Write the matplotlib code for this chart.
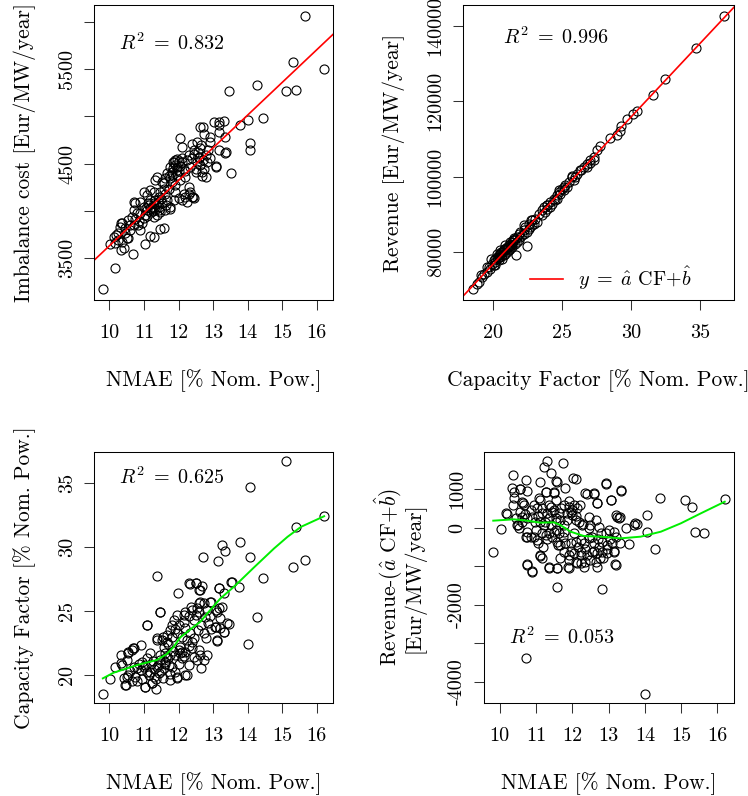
import numpy as np
import matplotlib
matplotlib.use("Agg")
import matplotlib.pyplot as plt

plt.rcParams['font.family'] = ['cmr10', 'DejaVu Serif']
plt.rcParams['mathtext.fontset'] = 'cm'
plt.rcParams['axes.unicode_minus'] = False

# ---------------- Panel 1: NMAE vs imbalance cost ----------------
p1_nmae = [9.81, 10.16, 10.02, 10.68, 10.34, 10.19, 10.34, 11.04, 11.16, 11.28, 11.47, 11.57,
           10.89, 10.70, 10.99, 11.37, 11.76, 12.05, 12.10, 11.83, 12.42, 12.69, 13.07, 13.53,
           13.34, 13.18, 13.16, 13.31, 13.02, 12.71, 13.45, 13.78, 14.01, 14.43, 14.07, 14.07,
           14.28, 15.12, 15.40, 15.31, 15.65, 16.21,
           13.17, 12.63, 12.73, 12.92, 13.17, 13.33, 13.36, 12.92, 12.39, 12.54, 12.63, 12.44,
           12.29, 12.58, 12.78, 12.83, 13.07, 12.63, 12.68, 12.78, 12.73, 11.86, 11.91, 12.10,
           12.15, 11.96, 11.66, 11.62, 11.76, 11.52, 11.33, 11.81, 11.91, 12.05, 12.20, 12.29,
           12.34, 12.39, 12.44, 12.15, 12.10, 12.00, 11.86, 11.76, 11.71, 11.57, 11.47, 11.28,
           11.18, 11.08, 11.18, 11.28, 11.42, 11.33, 11.18, 11.08, 10.89, 10.75, 10.70, 10.79,
           10.65, 10.55, 10.70, 10.60, 10.36, 10.31, 10.26, 10.46, 10.50, 10.12, 10.16, 10.36,
           10.41, 11.37, 11.42, 11.62, 10.99, 10.94, 10.84, 11.04,
           11.71, 11.81, 11.96, 11.57, 11.42, 11.33, 11.23, 11.13, 10.99, 10.89, 11.28, 11.52,
           11.66, 12.25, 12.34, 12.49, 12.54,
           11.05, 11.15, 11.25, 11.35, 11.30, 11.20, 11.10, 11.40, 11.50, 11.45,
           11.85, 11.90, 11.95, 12.00, 12.05, 11.80, 11.75, 12.00, 12.10, 11.95,
           12.55, 12.60, 12.65, 12.70, 12.50, 12.45, 12.85, 12.90, 12.40, 12.20,
           10.55, 10.60, 10.75, 10.85, 10.45, 10.25,
           12.20, 12.25, 12.30, 11.90, 11.60, 11.65]
p1_cost = [3176, 3394, 3651, 3546, 3588, 3746, 3877, 3655, 3736, 3722, 3813, 3820,
           3799, 4092, 4204, 4363, 4018, 4768, 4680, 4514, 4144, 4373, 4468, 4398,
           4616, 4651, 4944, 4954, 4944, 4884, 5268, 4908, 4968, 4986, 4722, 4644,
           5331, 5271, 5278, 5577, 6063, 5500,
           4908, 4890, 4820, 4785, 4838, 4785, 4626, 4732, 4714, 4732, 4662, 4644,
           4591, 4574, 4591, 4521, 4479, 4486, 4415, 4362, 4450, 4521, 4538, 4521,
           4450, 4433, 4398, 4345, 4345, 4310, 4327, 4310, 4274, 4327, 4362, 4257,
           4204, 4151, 4134, 4186, 4116, 4134, 4116, 4046, 4239, 4239, 4204, 4204,
           4222, 4169, 4116, 4081, 4046, 4010, 4028, 4010, 4098, 4081, 4010, 3975,
           3940, 3905, 3852, 3799, 3870, 3834, 3764, 3764, 3711, 3729, 3658, 3676,
           3606, 3958, 4010, 4010, 3922, 3870, 3852, 3958,
           4369, 4415, 4380, 4292, 4151, 4116, 4046, 4081, 4046, 3975, 3940, 4081,
           4116, 4538, 4468, 4415, 4521,
           4030, 4060, 4000, 4070, 4030, 3990, 3950, 4100, 4130, 3990,
           4460, 4490, 4470, 4420, 4480, 4380, 4470, 4530, 4560, 4550,
           4620, 4560, 4700, 4540, 4450, 4600, 4650, 4560, 4560, 4420,
           3720, 3850, 3920, 3900, 3820, 3690,
           4150, 4100, 4180, 4200, 4180, 4060]
p1_r2 = "0.832"

# ---------------- Panel 2: capacity factor vs revenue ----------------
p2_cf = [18.53, 18.99, 19.16, 19.35, 19.59, 19.83, 21.64, 22.44, 22.72, 22.24, 23.93, 24.77,
         25.14, 25.74, 26.34, 26.82, 27.02, 27.31, 27.55, 27.74, 28.46, 28.95, 29.19, 29.28,
         29.72, 30.15, 30.44, 31.57, 32.42, 34.66, 36.71,
         18.84, 19.20, 19.57, 19.69, 19.93, 20.05, 20.17, 20.29, 20.41, 20.53, 20.65, 20.77,
         20.89, 21.13, 21.25, 21.37, 21.62, 21.74, 21.86, 21.98, 22.22, 22.34, 22.58, 22.82,
         23.06, 23.30, 23.54, 23.66, 23.91, 24.15, 24.39, 24.63, 24.75, 24.99, 25.23, 25.47,
         25.71, 26.08, 26.32, 26.56, 26.80, 27.04, 27.28,
         19.81, 20.17, 20.41, 20.65, 20.77, 21.01, 20.29, 20.53, 20.89, 21.37, 21.49, 21.74,
         22.10, 22.46, 22.82, 23.18, 23.54, 23.79, 24.27, 24.51,
         20.05, 20.17, 20.41, 20.53, 20.65, 20.89, 21.13, 21.01, 21.25, 21.37, 21.62, 21.86,
         21.98, 22.22, 22.58, 22.70, 22.94, 23.91, 24.15, 24.63, 24.87, 25.11, 25.35, 25.83,
         25.95,
         20.35, 20.60, 20.80, 21.05, 21.20, 21.45, 20.95, 21.55, 20.70, 21.30]
p2_rev = [70177, 72035, 73805, 74248, 76018, 78230, 79115, 81504, 88407, 87080, 92389, 96372,
          97257, 100177, 101681, 102566, 103628, 104513, 106991, 108142, 110265, 110973, 112035, 113363,
          115398, 116549, 117434, 121593, 126018, 134248, 142655,
          71593, 73363, 74690, 76018, 76903, 77788, 77345, 78673, 79115, 79558, 80000, 80443,
          80885, 81328, 82213, 82655, 83540, 83983, 84868, 85310, 85930, 86638, 87523, 88408,
          88850, 90178, 91063, 91948, 92390, 93275, 94160, 95045, 95930, 96815, 97700, 98585,
          99913, 100798, 101683, 102568, 103453, 104338, 105223,
          75575, 76460, 77788, 78230, 79115, 80000, 79558, 80443, 81770, 81328, 83098, 82655,
          84425, 85310, 87080, 87965, 89735, 90620, 92833, 93718,
          76460, 78230, 78673, 78673, 79115, 79558, 80443, 80885, 80885, 81770, 82213, 83098,
          83983, 84868, 86195, 86638, 87523, 91505, 91948, 94160, 95488, 96373, 97258, 99028,
          99913,
          78400, 79900, 80700, 81500, 82600, 83300, 81200, 83700, 79900, 82000]
p2_r2 = "0.996"

# ---------------- Panel 3: NMAE vs capacity factor ----------------
p3_nmae = [9.81, 10.02, 10.15, 10.34, 10.34, 10.48, 10.41, 10.53, 10.68, 10.75, 10.79, 10.91,
           11.02, 11.09, 11.23, 11.36, 11.37, 11.47, 11.55, 11.37, 11.76, 11.97, 11.95, 12.20,
           12.34, 12.49, 12.63, 12.68, 12.71, 12.66, 12.94, 13.14, 13.18, 13.26, 13.33, 13.31,
           13.53, 13.46, 13.12, 13.31, 13.21, 13.05, 13.78, 13.76, 14.01, 14.06, 14.07, 14.28,
           14.43, 15.12, 15.31, 15.39, 15.65, 16.21,
           10.36, 10.55, 10.70, 10.65, 10.50, 10.70, 10.50, 10.46, 10.79, 10.94, 11.08, 11.18,
           11.04, 11.18, 11.04, 11.23, 11.28, 11.42, 11.57, 11.37, 11.47, 11.62, 11.71, 11.96,
           11.62, 11.76, 11.91, 12.05, 12.10, 12.00, 11.57, 11.66, 11.52, 11.37, 11.81, 11.96,
           12.10, 12.25, 12.39, 12.20, 12.34, 12.39, 12.58, 12.63, 12.73, 12.83, 12.54, 12.29,
           12.25, 11.66, 11.76, 11.86, 11.96, 12.15, 12.29, 12.39, 12.54, 12.49, 12.63, 12.58,
           12.15, 12.00, 11.47, 11.08, 12.29, 12.49, 12.58, 12.73, 12.92, 12.83, 13.07, 13.17,
           13.21, 13.07, 13.41, 12.73, 12.78, 13.12, 13.31, 13.17, 13.55, 12.20, 12.44,
           10.90, 11.00, 11.10, 11.20, 11.30, 11.40, 11.50, 11.60, 11.70, 11.80, 11.90, 12.00,
           12.10, 12.15, 12.05, 11.85, 11.65, 11.45, 11.25, 11.15, 10.85, 10.60, 10.55, 10.65,
           10.95, 11.35, 11.55, 11.75, 12.30, 12.45, 12.55, 12.65, 12.75, 12.85, 12.95, 12.90,
           12.45, 12.35, 12.60, 12.20, 11.90, 11.80, 11.70, 13.10, 13.25]
p3_cf = [18.52, 19.66, 20.65, 21.56, 20.91, 19.22, 19.74, 21.82, 22.08, 19.87, 19.56, 22.34,
         19.09, 23.90, 19.35, 18.88, 27.72, 24.94, 22.94, 22.73, 19.61, 26.37, 19.74, 20.00,
         27.10, 27.20, 26.63, 26.94, 29.23, 20.52, 25.72, 28.92, 26.81, 30.14, 29.70, 26.37,
         27.23, 23.98, 22.68, 23.33, 23.69, 23.72, 30.37, 26.89, 22.42, 34.69, 29.23, 24.50,
         27.54, 36.71, 28.45, 31.52, 28.97, 32.43,
         20.78, 21.69, 22.08, 21.95, 21.17, 20.65, 19.87, 19.22, 20.52, 21.04, 21.30, 21.69,
         20.78, 20.26, 19.09, 19.35, 19.87, 20.13, 20.52, 20.65, 21.17, 21.04, 20.78, 19.87,
         21.69, 21.56, 21.56, 21.69, 21.30, 21.95, 22.21, 22.60, 22.73, 22.86, 22.99, 23.25,
         22.99, 22.73, 22.60, 23.64, 23.25, 22.08, 21.95, 21.56, 21.17, 21.56, 21.17, 20.78,
         20.00, 23.12, 23.51, 24.29, 24.68, 24.68, 24.60, 25.07, 25.20, 24.68, 25.72, 24.94,
         24.16, 23.90, 24.94, 23.90, 27.15, 27.15, 26.63, 25.59, 25.72, 25.07, 25.07, 25.20,
         24.42, 23.77, 24.03, 23.25, 22.86, 22.73, 23.38, 26.76, 27.28, 21.80, 21.40,
         20.40, 20.60, 20.20, 20.90, 20.50, 20.80, 20.30, 20.90, 21.30, 20.60, 20.20, 20.90,
         21.80, 21.50, 22.20, 21.90, 21.40, 21.60, 21.10, 20.00, 20.90, 20.30, 20.00, 19.50,
         19.70, 19.70, 19.80, 20.10, 22.30, 22.90, 23.50, 23.90, 24.50, 24.10, 23.60, 24.60,
         24.30, 25.30, 25.60, 24.90, 23.60, 23.90, 22.40, 24.90, 25.30]
p3_smooth_x = [9.81, 10.12, 10.80, 11.37, 11.66, 11.86, 12.05, 12.44, 12.63, 12.83, 13.21,
               13.60, 13.80, 14.18, 14.76, 15.15, 15.54, 16.21]
p3_smooth_y = [19.74, 20.18, 20.78, 21.17, 21.64, 22.21, 22.94, 23.77, 24.16, 24.81, 25.98,
               26.89, 27.41, 28.40, 29.88, 30.79, 31.57, 32.40]
p3_r2 = "0.625"

# ---------------- Panel 4: NMAE vs revenue residual ----------------
p4_nmae = [9.82, 10.04, 10.20, 10.37, 10.39, 10.37, 10.55, 10.72, 10.75, 10.64, 10.50, 10.71,
           10.75, 10.89, 10.74, 11.12, 11.12, 11.10, 11.29, 11.23, 11.40, 11.26, 11.49, 11.37,
           11.58, 11.58, 11.58, 11.75, 11.81, 12.02, 12.09, 11.89, 12.41, 12.60, 12.67, 12.81,
           12.94, 13.06, 13.17, 13.35, 13.19, 13.30, 13.31, 13.47, 13.55, 13.74, 13.79, 14.05,
           14.07, 14.00, 14.27, 14.42, 15.10, 15.29, 15.37, 15.63, 16.20,
           11.54, 10.34, 10.57, 11.26, 11.49, 10.39, 10.62, 10.66, 11.08, 11.54, 11.77, 11.90,
           12.04, 12.13, 11.40, 11.49, 11.63, 11.03, 11.17, 11.31, 11.35, 10.57, 10.62, 10.16,
           10.75, 10.89, 10.98, 11.12, 11.21, 11.40, 11.54, 11.67, 11.77, 11.86, 11.95, 12.00,
           12.09, 12.18, 12.27, 12.36, 12.59, 12.69, 12.92, 13.06, 13.33, 12.46, 12.64, 12.73,
           12.50, 12.92, 13.01, 13.15, 13.19, 13.24, 13.28, 13.70, 10.48, 10.52, 10.75, 10.71,
           10.94, 11.03, 11.17, 11.26, 11.35, 11.44, 11.54, 11.63, 11.77, 11.58, 11.67, 11.81,
           11.95, 12.09, 12.23, 12.32, 12.46, 12.59, 12.73, 12.83, 12.96, 13.10,
           11.77, 11.90, 12.04, 12.23, 12.41, 12.55, 12.69, 12.83, 12.96, 13.15,
           11.67, 11.90, 12.09, 12.23, 12.36, 12.50, 12.64, 12.77, 13.19,
           11.12, 11.17, 10.75, 10.89, 11.35, 11.58, 11.90, 12.13, 12.32, 12.69,
           10.45, 10.60, 10.70, 10.85, 10.95, 11.00, 11.05, 11.15, 11.25, 11.30, 11.35, 11.45,
           11.50, 11.55, 11.60, 11.70, 11.75, 11.85, 11.90, 11.95, 12.00, 12.05, 12.10, 12.15,
           12.20, 12.25, 12.30, 12.35, 12.45, 12.55, 12.60, 12.70, 12.80, 12.85, 12.95, 13.05,
           13.15, 11.20, 11.05, 10.85]
p4_resid = [-632, -43, 355, 1368, 935, 589, 996, 1238, 961, 632, 69, -3395,
            -970, -1143, -234, 1195, 719, -736, 1732, 1585, 1429, 918, 909, -1013,
            -1057, -1550, 1195, 1671, 1022, 1282, 1256, -1031, 875, 875, 632, -1602,
            1134, 719, -953, 961, 329, 286, -407, -17, -424, 113, 87, 329,
            -121, -4321, -563, 762, 719, 528, -121, -147, 745,
            1212, 1022, 1000, 935, 935, 762, 675, 589, 762, 719, 589, 546,
            589, 502, 546, 459, 372, 502, 372, 372, 242, 416, 286, 372,
            242, 286, 156, 156, 69, 69, 156, 199, 69, 372, 416, 329,
            199, 156, 69, 892, 892, 632, 1152, 719, 978, 286, 199, 26,
            69, -147, -61, -104, -234, 286, 242, 69, 69, -17, -104, -234,
            -234, -320, -147, -191, -147, -234, -61, -147, -104, -364, -450, -407,
            -407, -364, -320, -407, -277, -407, -494, -364, -450, -407,
            -624, -710, -667, -624, -710, -624, -667, -624, -667, -624,
            -797, -840, -883, -927, -883, -840, -883, -797, -970,
            -710, -797, -953, -1126, -1057, -1057, -1057, -927, -1013, -1013,
            250, 150, 350, 450, 600, -50, 300, 500, 150, -300, 600, 400,
            -100, 250, -450, 500, -250, 200, 700, -600, 450, -150, 300, -500,
            600, -700, 100, -550, 0, -250, -600, -300, -150, -800, -550, -300,
            -600, -500, -400, -250]
p4_smooth_x = [9.82, 10.39, 10.75, 11.12, 11.49, 11.67, 11.95, 12.32, 12.78, 13.33, 13.88,
               14.44, 14.99, 15.54, 16.20]
p4_smooth_y = [182, 217, 182, 130, 139, 69, -104, -217, -234, -277, -234, -104, 113, 372, 675]
p4_r2 = "0.053"

nmae_ticks = [10, 11, 12, 13, 14, 15, 16]

# ---------------- figure ----------------
W, H = 748, 796
fig = plt.figure(figsize=(W / 100, H / 100), dpi=100)

def rect(l, t, r, b):
    return [l / W, 1 - b / H, (r - l) / W, (b - t) / H]

FS = 14.5
LW = 0.75

def rlim(v):
    lo, hi = min(v), max(v)
    d = 0.04 * (hi - lo)
    return lo - d, hi + d

def r2text(val):
    return r'$R^2\;=\;' + val + '$'

def style(ax, xt, xtl, yt, ytl, xlabel, ylabel):
    ax.set_xticks(xt)
    ax.set_xticklabels(xtl, fontsize=FS)
    ax.set_yticks(yt)
    ax.set_yticklabels(ytl, fontsize=FS, rotation=90, va='center')
    ax.tick_params(direction='out', length=7, width=LW, color='#333333')
    ax.tick_params(axis='x', pad=10)
    ax.tick_params(axis='y', pad=6)
    for s in ax.spines.values():
        s.set_linewidth(LW)
    ax.set_xlabel(xlabel, fontsize=FS + 1, labelpad=20)
    ax.set_ylabel(ylabel, fontsize=FS + 1, labelpad=16)

def pts(ax, x, y):
    ax.plot(x, y, linestyle='none', marker='o', markersize=6.5,
            markerfacecolor='none', markeredgecolor='black', markeredgewidth=0.8)

# Panel 1
ax1 = fig.add_axes(rect(94, 5, 333, 300))
pts(ax1, p1_nmae, p1_cost)
ax1.set_xlim(rlim(p1_nmae)); ax1.set_ylim(rlim(p1_cost))
c1 = np.polyfit(p1_nmae, p1_cost, 1)
xl = np.array(ax1.get_xlim())
ax1.plot(xl, np.polyval(c1, xl), color='red', lw=1.2)
ax1.text(11.81, 5771, r2text(p1_r2), fontsize=FS, ha='center', va='center')
style(ax1, nmae_ticks, [str(t) for t in nmae_ticks],
      [3500, 4000, 4500, 5000, 5500, 6000], ['3500', '', '4500', '', '5500', ''],
      'NMAE [% Nom. Pow.]', 'Imbalance cost [Eur/MW/year]')

# Panel 2
ax2 = fig.add_axes(rect(462.7, 5, 734, 300))
pts(ax2, p2_cf, p2_rev)
ax2.set_xlim(rlim(p2_cf)); ax2.set_ylim(rlim(p2_rev))
c2 = np.polyfit(p2_cf, p2_rev, 1)
xl = np.array(ax2.get_xlim())
ln, = ax2.plot(xl, np.polyval(c2, xl), color='red', lw=1.2)
ax2.text(24.54, 136946, r2text(p2_r2), fontsize=FS, ha='center', va='center')
ax2.legend([ln], [r'$y\;=\;\hat{a}$ CF$+\hat{b}$'], loc='center right',
           bbox_to_anchor=(0.845, 0.0736), frameon=False, fontsize=FS,
           handlelength=1.64, handletextpad=0.75, borderpad=0, borderaxespad=0)
style(ax2, [20, 25, 30, 35], ['20', '25', '30', '35'],
      [80000, 100000, 120000, 140000], ['80000', '100000', '120000', '140000'],
      'Capacity Factor [% Nom. Pow.]', 'Revenue [Eur/MW/year]')

# Panel 3
ax3 = fig.add_axes(rect(94, 451.7, 333, 703.3))
pts(ax3, p3_nmae, p3_cf)
ax3.set_xlim(rlim(p3_nmae)); ax3.set_ylim(rlim(p3_cf))
ax3.plot(p3_smooth_x, p3_smooth_y, color='#00ee00', lw=1.4)
ax3.text(11.81, 35.47, r2text(p3_r2), fontsize=FS, ha='center', va='center')
style(ax3, nmae_ticks, [str(t) for t in nmae_ticks],
      [20, 25, 30, 35], ['20', '25', '30', '35'],
      'NMAE [% Nom. Pow.]', 'Capacity Factor [% Nom. Pow.]')

# Panel 4
ax4 = fig.add_axes(rect(484, 451.7, 734, 703.3))
pts(ax4, p4_nmae, p4_resid)
ax4.set_xlim(rlim(p4_nmae)); ax4.set_ylim(rlim(p4_resid))
ax4.plot(p4_smooth_x, p4_smooth_y, color='#00ee00', lw=1.4)
ax4.text(11.72, -2849, r2text(p4_r2), fontsize=FS, ha='center', va='center')
style(ax4, nmae_ticks, [str(t) for t in nmae_ticks],
      [-4000, -3000, -2000, -1000, 0, 1000], ['-4000', '', '-2000', '', '0', '1000'],
      'NMAE [% Nom. Pow.]', 'Revenue-($\\hat{a}$ CF+$\\hat{b}$)\n[Eur/MW/year]')
ax4.yaxis.label.set_linespacing(0.9)

fig.savefig('out.png', dpi=100)
